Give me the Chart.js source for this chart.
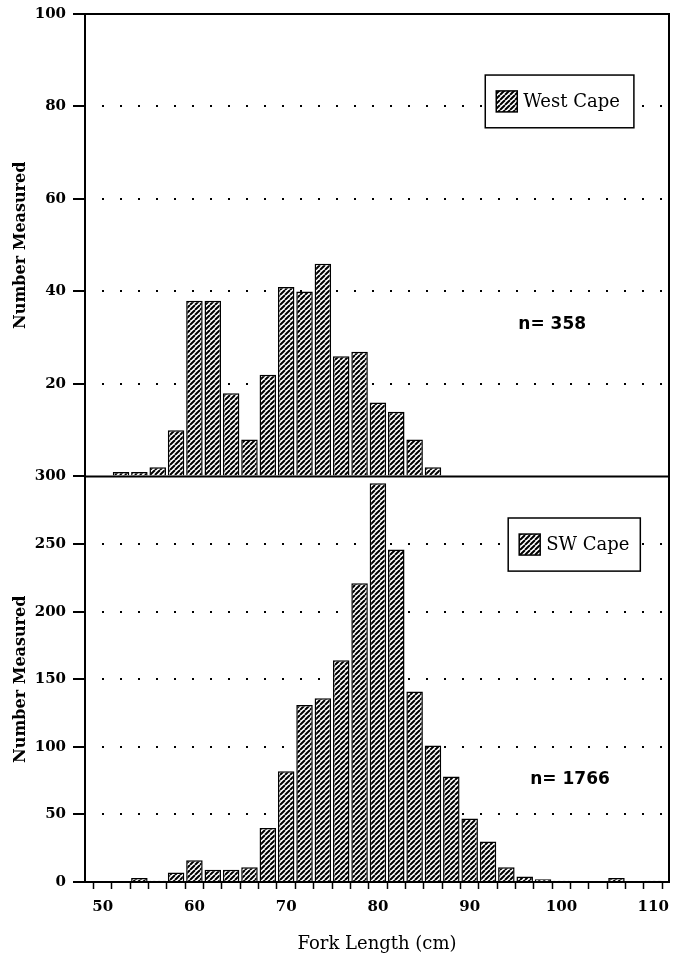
<!DOCTYPE html>
<html>
<head>
<meta charset="utf-8">
<title>Fork length frequency</title>
<script src="https://cdn.jsdelivr.net/npm/chart.js@4.4.1/dist/chart.umd.min.js"></script>
<style>
  html, body { margin: 0; padding: 0; background: #fff; }
  canvas { display: block; }
</style>
</head>
<body>
<canvas id="chart" width="675" height="958"></canvas>
<script>
// Length-frequency of fish measured, 2 cm fork-length bins (bin centres)
const forkLengthCm = [52, 54, 56, 58, 60, 62, 64, 66, 68, 70, 72, 74, 76, 78, 80,
                      82, 84, 86, 88, 90, 92, 94, 96, 98, 100, 102, 104, 106, 108, 110];
const westCapeCounts = [1, 1, 2, 10, 38, 38, 18, 8, 22, 41, 40, 46, 26, 27, 16,
                        14, 8, 2, 0, 0, 0, 0, 0, 0, 0, 0, 0, 0, 0, 0];
const swCapeCounts = [0, 3, 1, 7, 16, 9, 9, 11, 40, 82, 131, 136, 164, 221, 295,
                      246, 141, 101, 78, 47, 30, 11, 4, 2, 1, 0, 0, 3, 0, 1];

const seriesNames = ['West Cape', 'SW Cape'];
const sampleSizes = [358, 1766];

// Axis ticks
const xLabelValues = [50, 60, 70, 80, 90, 100, 110];
const xMinorStep = 2;
const westCapeTicks = [0, 20, 40, 60, 80, 100];
const swCapeTicks = [0, 50, 100, 150, 200, 250, 300];

const canvas = document.getElementById('chart');
const ctx = canvas.getContext('2d');

// Diagonal hatch fill used for the bars and legend swatches
function makeHatch(context) {
  const s = 5;
  const tile = document.createElement('canvas');
  tile.width = s; tile.height = s;
  const g = tile.getContext('2d');
  g.fillStyle = '#ffffff';
  g.fillRect(0, 0, s, s);
  g.strokeStyle = '#000000';
  g.lineWidth = 2;
  g.beginPath();
  for (let k = -1; k <= 1; k++) {
    g.moveTo(k * s, s);
    g.lineTo(k * s + s, 0);
  }
  g.stroke();
  return context.createPattern(tile, 'repeat');
}
const hatch = makeHatch(ctx);

const toPoints = (counts) => forkLengthCm.map((x, i) => ({ x, y: counts[i] }));

const serif = '"DejaVu Serif", "Liberation Serif", serif';
Chart.defaults.font.family = serif;
Chart.defaults.color = '#000';

function yAxis(ticks, weight, hideZero) {
  return {
    type: 'linear',
    position: 'left',
    stack: 'panels',
    stackWeight: weight,
    min: ticks[0],
    max: ticks[ticks.length - 1],
    afterBuildTicks: (scale) => { scale.ticks = ticks.map(v => ({ value: v })); },
    afterFit: (scale) => {
      scale.width = 85;
      scale.paddingTop = 0;
      scale.paddingBottom = 0;
    },
    border: { display: true, color: '#000', width: 2, dash: [2, 16], dashOffset: 2 },
    grid: {
      color: (c) => (c.tick && (c.tick.value === ticks[0] || c.tick.value === ticks[ticks.length - 1])) ? 'rgba(0,0,0,0)' : '#000',
      lineWidth: 2,
      drawTicks: true,
      tickLength: 12,
      tickColor: '#000',
      tickWidth: 2,
      tickBorderDash: []
    },
    ticks: {
      padding: 7,
      font: { size: 15, weight: 'bold' },
      callback: (v) => (hideZero && v === 0) ? '' : String(v)
    },
    title: {
      display: true,
      text: 'Number Measured',
      font: { size: 16, weight: 'bold' },
      padding: { top: 11, bottom: 0 }
    }
  };
}

// Frame, divider, legends and sample sizes drawn inside the panels
const panelDecor = {
  id: 'panelDecor',
  afterDraw(chart, args, opts) {
    const { ctx, chartArea: a, scales } = chart;
    const x = scales.x;
    ctx.save();
    ctx.strokeStyle = '#000';
    ctx.lineWidth = 2;
    ctx.beginPath();
    ctx.moveTo(a.left - 12, a.top);
    ctx.lineTo(a.right, a.top);
    ctx.lineTo(a.right, a.bottom);
    const mid = scales.yTop.getPixelForValue(0);
    ctx.moveTo(a.left, mid);
    ctx.lineTo(a.right, mid);
    ctx.stroke();

    opts.boxes.forEach((b, i) => {
      const ys = scales[b.axis];
      const left = x.getPixelForValue(b.x0), right = x.getPixelForValue(b.x1);
      const top = ys.getPixelForValue(b.y0), bottom = ys.getPixelForValue(b.y1);
      ctx.fillStyle = '#fff';
      ctx.fillRect(left, top, right - left, bottom - top);
      ctx.lineWidth = 1.5;
      ctx.strokeStyle = '#000';
      ctx.strokeRect(left, top, right - left, bottom - top);
      const cy = (top + bottom) / 2;
      const sw = 21;
      ctx.fillStyle = hatch;
      ctx.fillRect(left + 11, cy - sw / 2, sw, sw);
      ctx.strokeRect(left + 11, cy - sw / 2, sw, sw);
      ctx.fillStyle = '#000';
      ctx.font = '18px ' + serif;
      ctx.textAlign = 'left';
      ctx.textBaseline = 'middle';
      ctx.fillText(chart.data.datasets[i].label, left + 11 + sw + 6, cy + 1);

      ctx.font = 'bold 17px "DejaVu Sans", sans-serif';
      ctx.fillText('n= ' + sampleSizes[i], x.getPixelForValue(b.nx), ys.getPixelForValue(b.ny));
    });
    ctx.restore();
  }
};

new Chart(ctx, {
  type: 'bar',
  data: {
    datasets: [
      {
        label: seriesNames[0],
        data: toPoints(westCapeCounts),
        yAxisID: 'yTop',
        backgroundColor: hatch,
        borderColor: '#000',
        borderWidth: 1.5,
        grouped: false,
        barPercentage: 0.9,
        categoryPercentage: 1
      },
      {
        label: seriesNames[1],
        data: toPoints(swCapeCounts),
        yAxisID: 'yBottom',
        backgroundColor: hatch,
        borderColor: '#000',
        borderWidth: 1.5,
        grouped: false,
        barPercentage: 0.9,
        categoryPercentage: 1
      }
    ]
  },
  options: {
    responsive: false,
    devicePixelRatio: 1,
    animation: false,
    layout: { padding: { left: 0, right: 6, top: 14, bottom: 0 } },
    plugins: {
      legend: { display: false },
      tooltip: { enabled: false },
      panelDecor: {
        boxes: [
          { axis: 'yTop', x0: 91.7, x1: 107.9, y0: 86.8, y1: 75.4, nx: 95.3, ny: 32.8 },
          { axis: 'yBottom', x0: 94.2, x1: 108.6, y0: 269.3, y1: 230, nx: 96.6, ny: 75.5 }
        ]
      }
    },
    scales: {
      x: {
        type: 'linear',
        position: 'bottom',
        min: 49.1,
        max: 110.7,
        afterBuildTicks: (scale) => {
          const out = [];
          for (let v = xLabelValues[0]; v <= xLabelValues[xLabelValues.length - 1]; v += xMinorStep) out.push({ value: v });
          scale.ticks = out;
        },
        afterFit: (scale) => {
          scale.height = 76;
          scale.paddingLeft = 0;
          scale.paddingRight = 0;
        },
        border: { display: true, color: '#000', width: 2 },
        grid: {
          drawOnChartArea: false,
          drawTicks: true,
          tickLength: 7,
          tickColor: '#000',
          tickWidth: 1.5
        },
        ticks: {
          autoSkip: false,
          maxRotation: 0,
          padding: 9,
          font: { size: 15, weight: 'bold' },
          callback: (v) => xLabelValues.includes(v) ? String(v) : ''
        },
        title: {
          display: true,
          text: 'Fork Length (cm)',
          font: { size: 18 },
          padding: { top: 4, bottom: 3 }
        }
      },
      // declared bottom-first so the West Cape axis is stacked above
      yBottom: yAxis(swCapeTicks, 405.5, false),
      yTop: yAxis(westCapeTicks, 462.5, true)
    }
  },
  plugins: [panelDecor]
});
</script>
</body>
</html>
